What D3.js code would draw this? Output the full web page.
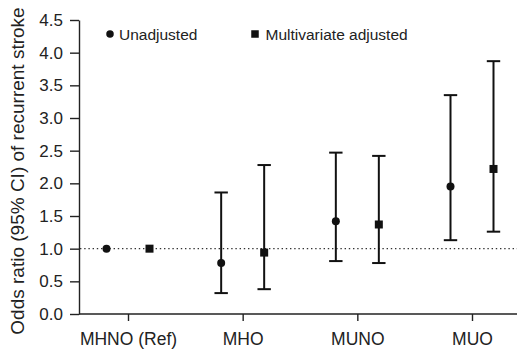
<!DOCTYPE html>
<html>
<head>
<meta charset="utf-8">
<script src="https://cdn.jsdelivr.net/npm/d3@7"></script>
<style>
  body { margin: 0; background: #fff; }
  svg { display: block; font-family: Helvetica, Arial, "Liberation Sans", sans-serif; }
</style>
</head>
<body>
<div id="chart"></div>
<script>
const categories = ["MHNO (Ref)", "MHO", "MUNO", "MUO"];

// unadjusted odds ratios with 95% CI (reference group has no interval)
const unadjOR = [1.0, 0.78, 1.42, 1.95];
const unadjLow = [null, 0.32, 0.81, 1.13];
const unadjHigh = [null, 1.86, 2.47, 3.35];

// multivariate adjusted
const adjOR = [1.0, 0.94, 1.37, 2.22];
const adjLow = [null, 0.38, 0.78, 1.26];
const adjHigh = [null, 2.28, 2.42, 3.87];

const yTicks = [0, 0.5, 1, 1.5, 2, 2.5, 3, 3.5, 4, 4.5];

const width = 517;
const height = 351;
const plotLeft = 79;
const plotTop = 20;
const plotBottom = 314;

window.onload = function() {
     drawChart();
};

function drawChart(){
     let svg = d3.select("#chart")
                    .append("svg")
                         .attr("width", width)
                         .attr("height", height);

     const yScale = d3.scaleLinear()
                         .domain([0, 4.5])
                         .range([plotBottom, plotTop]);

     const xScale = d3.scalePoint()
                         .domain(categories)
                         .range([128, 472]);

     const offset = 21.5;

     // y-axis
     let yAxis = svg.append('g')
          .attr('transform', `translate(${plotLeft}, 0)`)
          .call(d3.axisLeft(yScale).tickValues(yTicks).tickFormat(d3.format('.1f')).tickSize(9).tickPadding(7).tickSizeOuter(0));
     yAxis.selectAll('text').attr('font-size', 17).attr('fill', '#222').attr('font-family', null);
     yAxis.selectAll('line, path').attr('stroke', '#222').attr('stroke-width', 1.4);

     // x-axis
     let xAxis = svg.append('g')
          .attr('transform', `translate(0, ${plotBottom})`)
          .call(d3.axisBottom(xScale).tickSize(7).tickPadding(12).tickSizeOuter(0));
     xAxis.select('.domain').remove();
     xAxis.append('line')
          .attr('x1', plotLeft).attr('x2', width)
          .attr('stroke', '#222').attr('stroke-width', 1.4);
     xAxis.selectAll('text').attr('font-size', 17.5).attr('fill', '#222').attr('font-family', null);
     xAxis.selectAll('.tick line').attr('stroke', '#222').attr('stroke-width', 1.4);

     // y label
     svg.append('text')
          .attr('transform', `translate(24, 171) rotate(-90)`)
          .attr('text-anchor', 'middle')
          .attr('font-size', 19)
          .attr('fill', '#222')
          .text('Odds ratio (95% CI) of recurrent stroke');

     // reference line at OR = 1
     svg.append('line')
          .attr('x1', plotLeft + 1).attr('x2', width)
          .attr('y1', yScale(1)).attr('y2', yScale(1))
          .attr('stroke', '#333')
          .attr('stroke-width', 1.4)
          .attr('stroke-dasharray', '1.4,2.8');

     const series = [
          {or: unadjOR, low: unadjLow, high: unadjHigh, dx: -offset, shape: 'circle'},
          {or: adjOR, low: adjLow, high: adjHigh, dx: offset, shape: 'square'}
     ];

     series.forEach(s => {
          let g = svg.append('g');
          categories.forEach((c, i) => {
               let x = xScale(c) + s.dx;
               if (s.low[i] != null) {
                    g.append('line')
                         .attr('x1', x).attr('x2', x)
                         .attr('y1', yScale(s.low[i])).attr('y2', yScale(s.high[i]))
                         .attr('stroke', '#111').attr('stroke-width', 2);
                    [s.low[i], s.high[i]].forEach(v => {
                         g.append('line')
                              .attr('x1', x - 6.7).attr('x2', x + 6.7)
                              .attr('y1', yScale(v)).attr('y2', yScale(v))
                              .attr('stroke', '#111').attr('stroke-width', 2);
                    });
               }
               drawMarker(g, s.shape, x, yScale(s.or[i]), 8);
          });
     });

     // legend
     drawMarker(svg, 'circle', 110, 34, 7.5);
     svg.append('text')
          .attr('x', 119).attr('y', 39.5)
          .attr('font-size', 15.5).attr('fill', '#222')
          .text('Unadjusted');
     drawMarker(svg, 'square', 255, 34, 7.5);
     svg.append('text')
          .attr('x', 265.5).attr('y', 39.5)
          .attr('font-size', 15.5).attr('fill', '#222')
          .text('Multivariate adjusted');
}

function drawMarker(g, shape, x, y, size){
     if (shape == 'circle') {
          g.append('circle')
               .attr('cx', x).attr('cy', y).attr('r', size / 2)
               .attr('fill', '#111');
     } else {
          g.append('rect')
               .attr('x', x - size / 2).attr('y', y - size / 2)
               .attr('width', size).attr('height', size)
               .attr('fill', '#111');
     }
}
</script>
</body>
</html>
